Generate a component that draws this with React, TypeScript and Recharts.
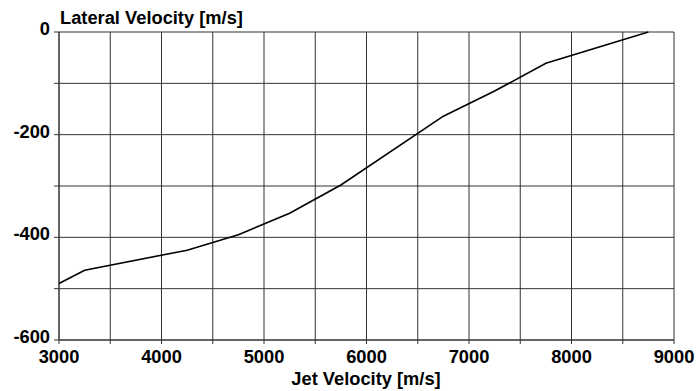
import { LineChart, Line, XAxis, YAxis, CartesianGrid } from 'recharts';

const jetVelocity = [3000, 3250, 4250, 4750, 5250, 5750, 6750, 7250, 7750, 8750];
const lateralVelocity = [-490, -464, -425, -395, -353, -298, -164, -115, -61, 0];

const xTicks = [3000, 3500, 4000, 4500, 5000, 5500, 6000, 6500, 7000, 7500, 8000, 8500, 9000];
const yTicks = [-600, -500, -400, -300, -200, -100, 0];

const data = jetVelocity.map((x, i) => ({ x, y: lateralVelocity[i] }));

const FONT = 'Arial, "Liberation Sans", sans-serif';
const GRID = '#333';

function XTick(props: any) {
  const { x, y, payload } = props;
  if (payload.value % 1000 !== 0) return null;
  return (
    <text x={x} y={y + 17} textAnchor="middle" fontFamily={FONT} fontWeight="bold" fontSize={18.3} fill="#000">
      {payload.value}
    </text>
  );
}

function YTick(props: any) {
  const { x, y, payload } = props;
  if (payload.value % 200 !== 0) return null;
  return (
    <text x={x} y={y + 3} textAnchor="end" fontFamily={FONT} fontWeight="bold" fontSize={18.3} fill="#000">
      {payload.value}
    </text>
  );
}

export default function App() {
  return (
    <div style={{ position: 'absolute', left: 0, top: 0, background: '#fff' }}>
      <LineChart width={696} height={391} data={data} margin={{ top: 32, right: 22, bottom: 0, left: 0 }}>
        <CartesianGrid stroke={GRID} strokeWidth={1} />
        <XAxis
          dataKey="x"
          type="number"
          domain={[3000, 9000]}
          ticks={xTicks}
          interval={0}
          height={51}
          tickSize={4}
          tick={<XTick />}
          stroke={GRID}
          label={{
            content: () => (
              <text x={366} y={385} textAnchor="middle" fontFamily={FONT} fontWeight="bold" fontSize={18.3} fill="#000">
                Jet Velocity [m/s]
              </text>
            ),
          }}
        />
        <YAxis
          type="number"
          domain={[-600, 0]}
          ticks={yTicks}
          interval={0}
          width={59}
          tickSize={5}
          tickMargin={4}
          tick={<YTick />}
          stroke={GRID}
          label={{
            content: () => (
              <text x={60} y={24} textAnchor="start" fontFamily={FONT} fontWeight="bold" fontSize={18.3} fill="#000">
                Lateral Velocity [m/s]
              </text>
            ),
          }}
        />
        <Line
          dataKey="y"
          type="linear"
          stroke="#000"
          strokeWidth={1.6}
          dot={false}
          isAnimationActive={false}
        />
      </LineChart>
    </div>
  );
}
